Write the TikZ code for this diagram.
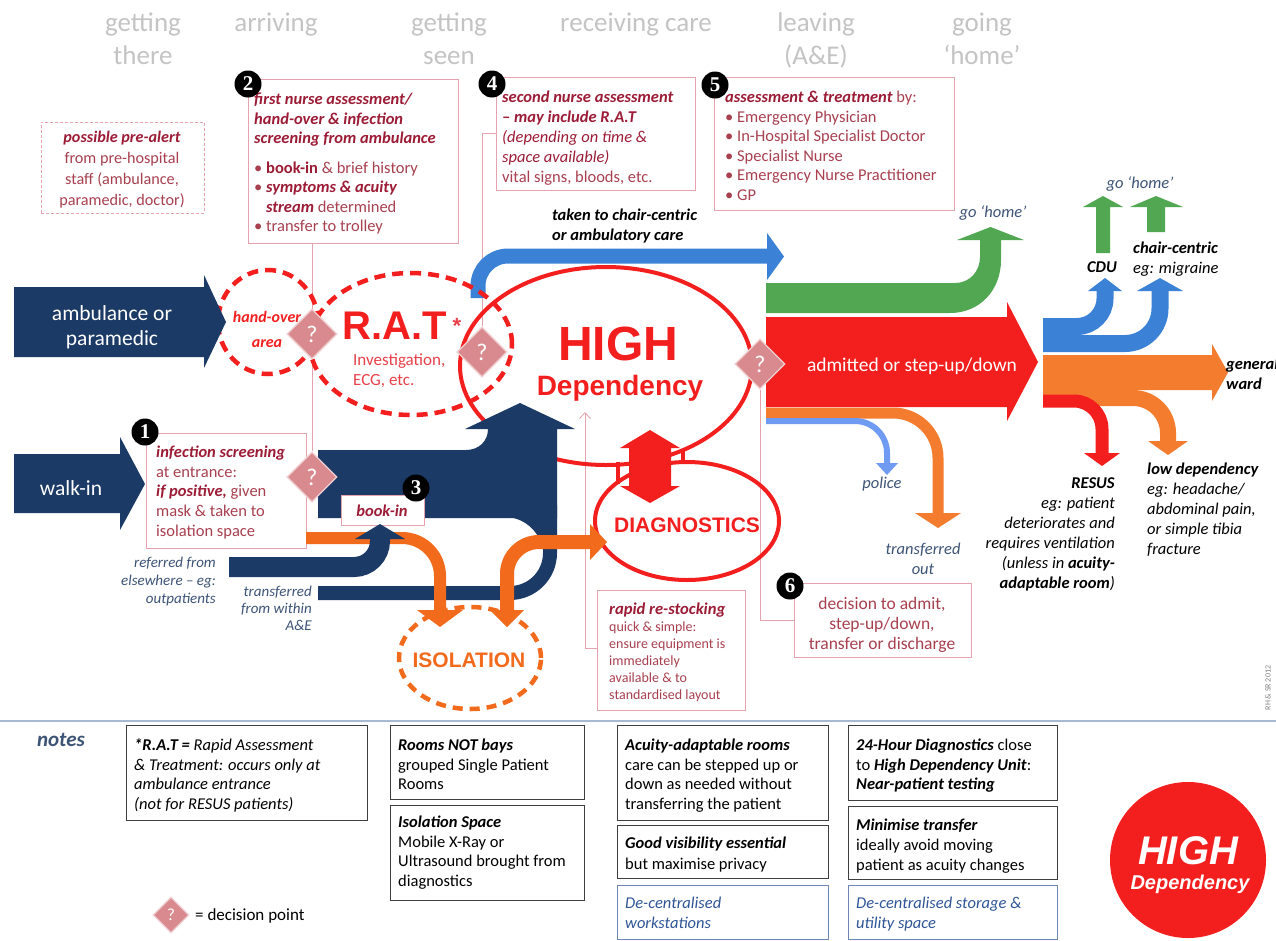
\documentclass[tikz,border=0pt]{standalone}
\usepackage{fontspec}
\setmainfont{Carlito}
\newfontfamily\arl{Liberation Sans}
\newfontfamily\numf{Liberation Serif}
\usetikzlibrary{arrows.meta,shapes.geometric}
\definecolor{navy}{HTML}{1C3A66}
\definecolor{hred}{HTML}{F31E1E}
\definecolor{aorange}{HTML}{F47C2E}
\definecolor{iorange}{HTML}{F26A1B}
\definecolor{agreen}{HTML}{52A852}
\definecolor{ablue}{HTML}{3B82D6}
\definecolor{pblue}{HTML}{6F9CF2}
\definecolor{pinkb}{HTML}{E7A3AD}
\definecolor{mar}{HTML}{9C1C36}
\definecolor{marl}{HTML}{A8404F}
\definecolor{slate}{HTML}{3E5477}
\definecolor{hdr}{HTML}{C4C4C4}
\definecolor{dia}{HTML}{D98A8F}
\definecolor{noteb}{HTML}{3F3F3F}
\definecolor{bluet}{HTML}{2F5597}
\definecolor{sepc}{HTML}{A7BAD3}
\definecolor{ratl}{HTML}{E8414A}
\newcommand{\fz}[2]{\fontsize{#1}{#2}\selectfont}
\newcommand{\BI}[1]{\textcolor{mar}{\textbf{\textit{#1}}}}
\newcommand{\BB}[1]{\textcolor{mar}{\textbf{#1}}}
\newcommand{\IT}[1]{\textcolor{mar}{\textit{#1}}}
\newcommand{\KB}[1]{\textbf{\textit{#1}}}
\tikzset{
  hdrtxt/.style={inner sep=0pt, align=center, anchor=north, text=hdr, font=\fz{27}{33}},
  pbox/.style={draw=pinkb, line width=0.9pt, fill=white, inner sep=0pt, anchor=north west},
  nbox/.style={draw=noteb, line width=0.9pt, inner sep=0pt, anchor=north west},
  bbox/.style={draw=bluet!70, line width=0.9pt, inner sep=0pt, anchor=north west},
  tl/.style={inner sep=0pt, align=left, anchor=north west},
  numc/.style={circle, fill=black, minimum size=27pt, inner sep=0pt, text=white, font=\numf\bfseries\fz{21}{21}},
  dmd/.style={diamond, fill=dia, draw=dia!40, line width=1.2pt, minimum width=50pt, minimum height=50pt, inner sep=0pt, text=white, font=\fz{24}{24}},
  conn/.style={draw=pinkb, line width=0.8pt},
  dashell/.style={draw=hred, line width=4.5pt, dash pattern=on 11pt off 7pt},
  lbl/.style={inner sep=0pt, text=slate, font=\fz{16.5}{20}\itshape},
}
\begin{document}
\begin{tikzpicture}[x=1pt,y=-1pt]
\useasboundingbox (0,0) rectangle (1276,940);
\fill[white] (0,0) rectangle (1276,940);

% headers
\node[hdrtxt] (h1) at (143,7.8) {\strut getting\\\strut there};
\node[hdrtxt] (h2) at (276,7.8) {\strut arriving};
\node[hdrtxt] (h3) at (449,7.8) {\strut getting\\\strut seen};
\node[hdrtxt] (h4) at (636,7.8) {\strut receiving care};
\node[hdrtxt] (h5) at (816,7.8) {\strut leaving\\\strut (A\&E)};
\node[hdrtxt] (h6) at (982,7.8) {\strut going\\\strut `home'};

% boxes
\node[pbox, dash pattern=on 3pt off 2pt, minimum width=163pt, minimum height=91pt] (pre) at (41,122) {};
\node[tl, anchor=north, align=center, text=marl, font=\fz{16.2}{21}] (pret) at (122,127.6) {\strut\BI{possible pre-alert}\\\strut from pre-hospital\\\strut staff (ambulance,\\\strut paramedic, doctor)};

\node[pbox, minimum width=210pt, minimum height=164pt] (b2) at (248,79) {};
\node[tl, text=marl, font=\fz{16.5}{19.5}] (b2t) at (254,90.8) {\strut\BI{first nurse assessment/}\\\strut\BI{hand-over \& infection}\\\strut\BI{screening from ambulance}\\[10pt]\strut• \BB{book-in} \& brief history\\\strut• \BI{symptoms \& acuity}\\\strut\phantom{• }\BI{stream} determined\\\strut• transfer to trolley};

\node[pbox, minimum width=199pt, minimum height=113pt] (b4) at (496,77) {};
\node[tl, text=marl, font=\fz{16.5}{20}] (b4t) at (502,88.4) {\strut\BI{second nurse assessment}\\\strut\BI{– may include R.A.T}\\\strut\IT{(depending on time \&}\\\strut\IT{space available)}\\\strut vital signs, bloods, etc.};

\node[pbox, minimum width=240pt, minimum height=133pt] (b5) at (714,77) {};
\node[tl, text=marl, font=\fz{16.5}{19.5}] (b5t) at (725,88.8) {\strut\BI{assessment \& treatment} by:\\\strut• Emergency Physician\\\strut• In-Hospital Specialist Doctor\\\strut• Specialist Nurse\\\strut• Emergency Nurse Practitioner\\\strut• GP};

\node[pbox, minimum width=160pt, minimum height=115pt] (b1) at (146,433) {};
\node[tl, text=marl, font=\fz{16.5}{19.7}] (b1t) at (156,443.6) {\strut\BI{infection screening}\\\strut at entrance:\\\strut\BI{if positive,} given\\\strut mask \& taken to\\\strut isolation space};

\node[pbox, minimum width=177pt, minimum height=74pt] (b6) at (794,583) {};
\node[tl, anchor=north, align=center, text=marl, font=\fz{17.5}{20}] (b6t) at (882,594.8) {\strut decision to admit,\\\strut step-up/down,\\\strut transfer or discharge};

\node[pbox, minimum width=148pt, minimum height=120pt] (br) at (597,590) {};
\node[anchor=base west, inner sep=0pt, font=\fz{16.6}{20}] (brt1) at (609,614.5) {\BI{rapid re-stocking}};
\node[tl, text=marl, font=\fz{14}{17}] (brt2) at (609,619.8) {\strut quick \& simple:\\\strut ensure equipment is\\\strut immediately\\\strut available \& to\\\strut standardised layout};

% connectors
\coordinate (rtip) at (585,412);
\node[dmd] (dh) at (312,334) {};
\node[dmd] (dr) at (482,352) {};
\node[dmd] (dhd) at (760,364) {};
\node[dmd] (dw) at (312,477) {};
\draw[conn] (b2.south -| dh.north) -- (dw.north);
\draw[conn] ([yshift=-56pt]b4.north west) -| (dr.north);
\draw[conn] ([yshift=-37pt]b6.north west) -| (dhd.south);
\draw[conn, -{Straight Barb[length=6pt,width=11pt]}] ([yshift=-58pt]br.north west) -| (rtip);

% blue arrow to chair-centric
\draw[ablue, line width=15pt, rounded corners=30pt] (478,298) -- (478,256) -- (768,256);
\fill[ablue] (767,233) -- (784,256.5) -- (767,280) -- cycle;

% ellipses
\draw[dashell] (268,322) ellipse [x radius=50pt, y radius=52pt];
\draw[dashell] (411,344) ellipse [x radius=101pt, y radius=71pt];
\draw[hred, line width=4pt] (606,366) ellipse [x radius=146pt, y radius=99pt];
\draw[hred, line width=4pt] (687,521) ellipse [x radius=92pt, y radius=59pt];
\draw[hred, line width=4pt] (618,462) -- (618,484);
\draw[hred, line width=4pt] (683,449) -- (683,463);

% green / red / out arrows
\fill[agreen] (766,283) -- (955,283) .. controls (970,283) and (980,271) .. (980,257) -- (980,240) -- (957,240) -- (990.5,227) -- (1024,240) -- (1001,240) -- (1001,260) .. controls (1001,290) and (980,313) .. (950,313) -- (766,313) -- cycle;
\fill[hred] (766,317) -- (1007,317) -- (1007,302) -- (1038,362) -- (1007,421) -- (1007,407) -- (766,407) -- cycle;
\draw[aorange, line width=11pt, rounded corners=45pt] (766,413) -- (938,413) -- (938,515);
\fill[aorange] (915,513) -- (961,513) -- (938,528) -- cycle;
\draw[pblue, line width=6pt, rounded corners=32pt] (766,421) -- (887,421) -- (887,465);
\fill[pblue] (876,463) -- (898,463) -- (887,475) -- cycle;

% right side split
\fill[aorange] (1043,355) -- (1212,355) -- (1212,344) -- (1228,372.5) -- (1212,401) -- (1212,390) -- (1043,390) -- cycle;
\draw[aorange, line width=16pt, rounded corners=35pt] (1043,398) -- (1168,398) -- (1168,443);
\fill[aorange] (1148,441) -- (1188,441) -- (1168,455) -- cycle;
\draw[hred, line width=13pt, rounded corners=28pt] (1043,401) -- (1102,401) -- (1102,455);
\fill[hred] (1084,453) -- (1120,453) -- (1102,466) -- cycle;
\draw[ablue, line width=17pt, rounded corners=28pt] (1043,326.5) -- (1105,326.5) -- (1105,290);
\fill[ablue] (1088,291) -- (1105,278) -- (1122,291) -- cycle;
\draw[ablue, line width=17pt, rounded corners=35pt] (1043,343.5) -- (1160,343.5) -- (1160,290);
\fill[ablue] (1137,291) -- (1160,278) -- (1183,291) -- cycle;
\fill[agreen] (1096,253) -- (1096,207) -- (1083,207) -- (1103,196) -- (1123,207) -- (1110,207) -- (1110,253) -- cycle;
\fill[agreen] (1147,232) -- (1147,207) -- (1130,207) -- (1156,196) -- (1183,207) -- (1165,207) -- (1165,232) -- cycle;

% navy arrows
\fill[navy] (14,287) -- (204,287) -- (204,275) -- (226,322) -- (204,368) -- (204,357) -- (14,357) -- cycle;
\fill[navy] (14,454) -- (120,454) -- (120,437) -- (145,484) -- (120,530) -- (120,513) -- (14,513) -- cycle;
\fill[navy] (318,450) -- (466,450) .. controls (479,450) and (488,441) .. (488,429) -- (465,429) -- (520,403) -- (575,429) -- (557,429) -- (557,518) -- (318,518) -- cycle;
\draw[navy, line width=14pt, rounded corners=40pt] (318,593) -- (550,593) -- (550,505);
\fill[navy] (505,517) -- (543.5,517) -- (543.5,556) .. controls (543.5,535) and (526,517) .. (505,517) -- cycle;

% orange to isolation
\draw[iorange, line width=12pt, rounded corners=38pt] (306,538) -- (440,538) -- (440,611);
\fill[iorange] (417,610) -- (463,610) -- (440,627) -- cycle;
\draw[iorange, line width=14pt, rounded corners=32pt] (507,612) -- (507,542) -- (592,542);
\fill[iorange] (490,610) -- (524,610) -- (507,627) -- cycle;
\fill[iorange] (590,524) -- (607,542) -- (590,560) -- cycle;
\draw[iorange, line width=4.5pt, dash pattern=on 10pt off 7pt] (470,658) ellipse [x radius=71pt, y radius=51pt];

% book-in and referred
\node[pbox, minimum width=83pt, minimum height=30pt] (bookin) at (341,495) {};
\node[anchor=base, inner sep=0pt, font=\fz{16.5}{18}] (bookint) at (382,516) {\BI{book-in}};
\draw[navy, line width=20pt, rounded corners=26pt] (229,567) -- (380,567) -- (380,537);
\fill[navy] (355,539) -- (380,524) -- (405,539) -- cycle;

% double arrow
\fill[hred] (650,430) -- (680,448) -- (671,448) -- (671,486) -- (680,486) -- (650,503) -- (620,486) -- (629,486) -- (629,448) -- (620,448) -- cycle;

% big texts
\node[text=white, font=\fz{21.5}{25}, align=center, anchor=north, inner sep=0pt] (ambt) at (112,302.6) {\strut ambulance or\\\strut paramedic};
\node[text=white, font=\fz{21.5}{25}, anchor=base, inner sep=0pt] (wit) at (71,495) {walk-in};
\node[tl, anchor=north, align=center, text=hred, font=\fz{16}{25}\bfseries\itshape] (hot) at (267,304.8) {\strut hand-over\\\strut area};
\node[text=hred, font=\arl\bfseries\fz{40}{40}, anchor=base, inner sep=0pt] (ratn) at (395,339) {R.A.T};
\node[text=ratl, font=\arl\bfseries\fz{22}{22}, anchor=base, inner sep=0pt] (ast) at (457,333) {*};
\node[tl, text=ratl, font=\fz{17}{20}] (ratt) at (353,351.6) {\strut Investigation,\\\strut ECG, etc.};
\node[text=hred, font=\arl\bfseries\fz{48}{48}, anchor=base, inner sep=0pt] (hight) at (618,360) {HIGH};
\node[text=hred, font=\arl\bfseries\fz{28}{28}, anchor=base, inner sep=0pt] (dept) at (620,395) {Dependency};
\node[text=hred, font=\arl\bfseries\fz{21}{21}, anchor=base, inner sep=0pt] (diagt) at (687,532.5) {DIAGNOSTICS};
\node[text=iorange, font=\arl\bfseries\fz{21}{21}, anchor=base, inner sep=0pt] (isot) at (469,667.5) {ISOLATION};
\node[text=white, font=\fz{19.5}{19.5}, anchor=base, inner sep=0pt] (admt) at (912,371) {admitted or step-up/down};

% labels
\node[tl, font=\fz{16.5}{19.5}\bfseries\itshape] (tkt) at (552,206.8) {\strut taken to chair-centric\\\strut or ambulatory care};
\node[lbl, anchor=base] (gh1) at (993,217) {go `home'};
\node[lbl, anchor=base] (gh2) at (1140,188) {go `home'};
\node[inner sep=0pt, anchor=base, font=\fz{16.5}{20}\bfseries\itshape] (cdu) at (1102,272.5) {CDU};
\node[tl, font=\fz{16.5}{20}] (cct) at (1133,238.8) {\strut\KB{chair-centric}\\\strut\textit{eg: migraine}};
\node[tl, font=\fz{16.5}{20}\bfseries\itshape] (gwt) at (1226,354.8) {\strut general\\\strut ward};
\node[tl, font=\fz{16.5}{20}] (ldt) at (1147,459.8) {\strut\KB{low dependency}\\\strut\textit{eg: headache/}\\\strut\textit{abdominal pain,}\\\strut\textit{or simple tibia}\\\strut\textit{fracture}};
\node[tl, anchor=north east, align=right, font=\fz{16.5}{20}] (rst) at (1115,473.8) {\strut\KB{RESUS}\\\strut\textit{eg: patient}\\\strut\textit{deteriorates and}\\\strut\textit{requires ventilation}\\\strut\textit{(unless in \textbf{acuity-}}\\\strut\textit{\textbf{adaptable room})}};
\node[lbl, anchor=base] (pol) at (882,488.5) {police};
\node[lbl, align=center, anchor=north] (tot) at (923,539.8) {\strut transferred\\\strut out};
\node[lbl, align=right, anchor=north east, font=\fz{15}{18}\itshape] (reft) at (216,554.4) {\strut referred from\\\strut elsewhere – eg:\\\strut outpatients};
\node[lbl, align=right, anchor=north east, font=\fz{15}{17}\itshape] (trt) at (312,584.4) {\strut transferred\\\strut from within\\\strut A\&E};

% decision diamonds and numbers
\node[dmd] at (dh) {?};
\node[dmd] at (dr) {?};
\node[dmd] at (dhd) {?};
\node[dmd] at (dw) {?};
\node[numc] (c1) at (145,432) {1};
\node[numc] (c2) at (248,84) {2};
\node[numc] (c3) at (416,488) {3};
\node[numc] (c4) at (492,84) {4};
\node[numc] (c5) at (715,85) {5};
\node[numc] (c6) at (790,586) {6};
\node[rotate=90, font=\fz{8}{9}, text=gray, inner sep=0pt] (rh) at (1268,688) {RH \& SR 2012};

% notes
\draw[sepc, line width=2pt] (0,721) -- (1276,721);
\node[font=\fz{21}{24}\bfseries\itshape, text=slate, anchor=base, inner sep=0pt] (notes) at (61,746) {notes};
\node[nbox, minimum width=241pt, minimum height=95pt] (n1) at (126,725) {};
\node[tl, font=\fz{16.5}{19.5}] (n1t) at (134,736.8) {\strut\KB{*R.A.T =} \textit{Rapid Assessment}\\\strut\textit{\& Treatment: occurs only at}\\\strut\textit{ambulance entrance}\\\strut\textit{(not for RESUS patients)}};
\node[nbox, minimum width=194pt, minimum height=74pt] (n2) at (390,725) {};
\node[tl, font=\fz{16.5}{19.5}] (n2t) at (398,736.8) {\strut\KB{Rooms NOT bays}\\\strut grouped Single Patient\\\strut Rooms};
\node[nbox, minimum width=194pt, minimum height=95pt] (n3) at (390,805) {};
\node[tl, font=\fz{16.5}{19.5}] (n3t) at (398,813.8) {\strut\KB{Isolation Space}\\\strut Mobile X-Ray or\\\strut Ultrasound brought from\\\strut diagnostics};
\node[nbox, minimum width=211pt, minimum height=95pt] (nA) at (617,725) {};
\node[tl, font=\fz{16.5}{19.5}] (nAt) at (625,736.8) {\strut\KB{Acuity-adaptable rooms}\\\strut care can be stepped up or\\\strut down as needed without\\\strut transferring the patient};
\node[nbox, minimum width=211pt, minimum height=53pt] (nB) at (617,825) {};
\node[tl, font=\fz{16.5}{21}] (nBt) at (625,833.7) {\strut\KB{Good visibility essential}\\\strut but maximise privacy};
\node[bbox, minimum width=211pt, minimum height=54pt] (nC) at (617,885) {};
\node[tl, text=bluet, font=\fz{16.5}{20}\itshape] (nCt) at (625,894.4) {\strut De-centralised\\\strut workstations};
\node[nbox, minimum width=209pt, minimum height=75pt] (nD) at (848,725) {};
\node[tl, font=\fz{16.5}{19.5}] (nDt) at (856,736.8) {\strut\KB{24-Hour Diagnostics} close\\\strut to \KB{High Dependency Unit}:\\\strut\KB{Near-patient testing}};
\node[nbox, minimum width=209pt, minimum height=73pt] (nE) at (848,806) {};
\node[tl, font=\fz{16.5}{20}] (nEt) at (856,816.4) {\strut\KB{Minimise transfer}\\\strut ideally avoid moving\\\strut patient as acuity changes};
\node[bbox, minimum width=209pt, minimum height=54pt] (nF) at (848,885) {};
\node[tl, text=bluet, font=\fz{16.5}{20}\itshape] (nFt) at (856,894.4) {\strut De-centralised storage \&\\\strut utility space};
\node[circle, fill=hred, minimum size=156pt, inner sep=0pt] (hdc) at (1188,860) {};
\node[text=white, font=\arl\bfseries\itshape\fz{40}{40}, anchor=base, inner sep=0pt] (hdct1) at (1188,864) {HIGH};
\node[text=white, font=\arl\bfseries\itshape\fz{20}{20}, anchor=base, inner sep=0pt] (hdct2) at (1190,889) {Dependency};
\node[dmd, minimum width=36pt, minimum height=36pt, font=\fz{17}{17}] (dleg) at (171,915) {?};
\node[anchor=base west, inner sep=0pt, font=\fz{17}{19}] (legt) at (195,920.5) {= decision point};
\end{tikzpicture}
\end{document}
